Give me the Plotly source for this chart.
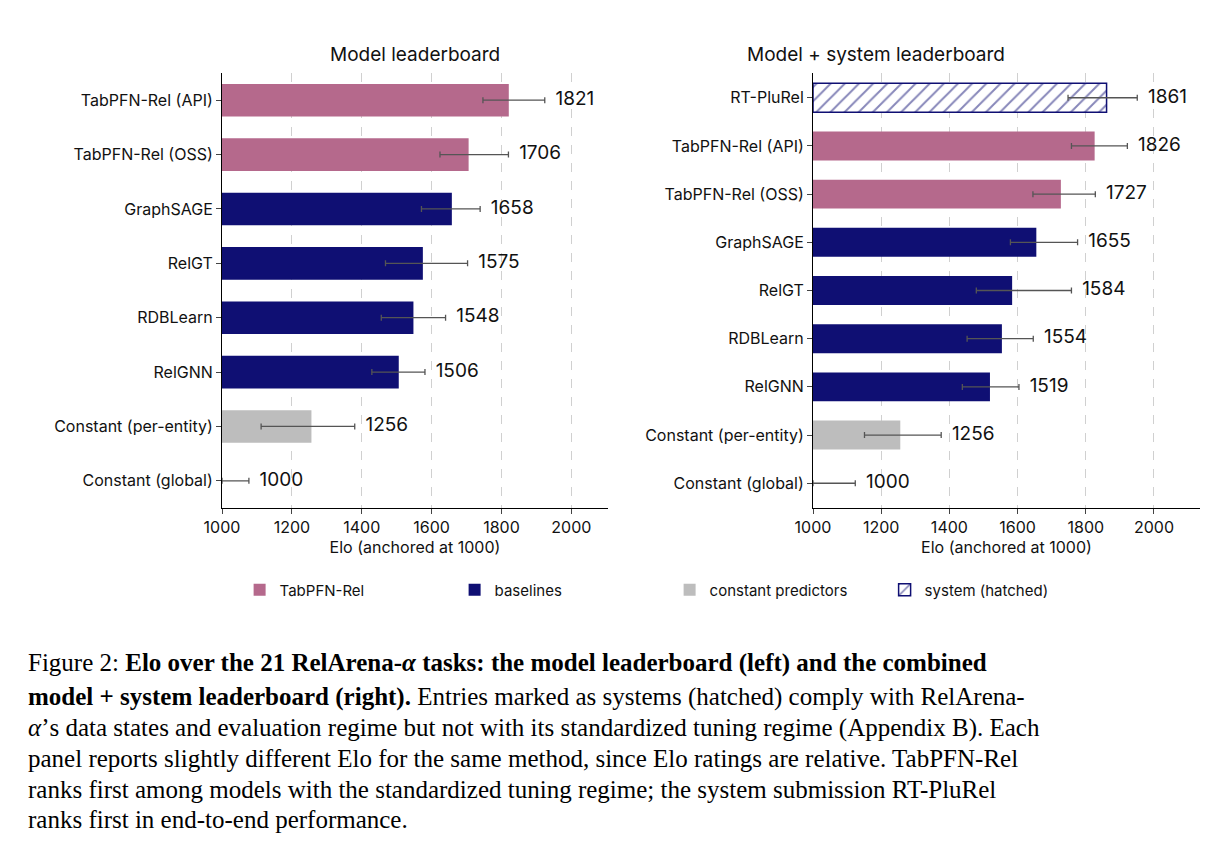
import plotly.graph_objects as go

# Left panel: model leaderboard
left_names = ["TabPFN-Rel (API)", "TabPFN-Rel (OSS)", "GraphSAGE", "RelGT", "RDBLearn",
              "RelGNN", "Constant (per-entity)", "Constant (global)"]
left_elo = [1821, 1706, 1658, 1575, 1548, 1506, 1256, 1000]
left_lo = [1747, 1624, 1571, 1468, 1456, 1429, 1112, 1000]
left_hi = [1924, 1820, 1739, 1703, 1640, 1581, 1380, 1077]
left_group = ["tab", "tab", "base", "base", "base", "base", "const", "const"]

# Right panel: model + system leaderboard
right_names = ["RT-PluRel", "TabPFN-Rel (API)", "TabPFN-Rel (OSS)", "GraphSAGE", "RelGT",
               "RDBLearn", "RelGNN", "Constant (per-entity)", "Constant (global)"]
right_elo = [1861, 1826, 1727, 1655, 1584, 1554, 1519, 1256, 1000]
right_lo = [1748, 1758, 1645, 1579, 1479, 1452, 1438, 1151, 1000]
right_hi = [1951, 1922, 1828, 1776, 1758, 1646, 1604, 1376, 1124]
right_group = ["sys", "tab", "tab", "base", "base", "base", "base", "const", "const"]

colors = {"tab": "#b5698c", "base": "#0f0f73", "const": "#bdbdbd", "sys": "#0f0f73"}
legend_names = {"tab": "TabPFN-Rel", "base": "baselines", "const": "constant predictors",
                "sys": "system (hatched)"}
FONT = "Inter, Roboto, sans-serif"

fig = go.Figure()


def add_panel(names, elo, lo, hi, groups, xa, ya, show):
    for g in ["tab", "base", "const", "sys"]:
        idx = [i for i, gg in enumerate(groups) if gg == g]
        if not idx:
            continue
        marker = dict(color=colors[g], line=dict(width=0))
        if g == "sys":
            marker = dict(color="white", line=dict(color=colors[g], width=1.5),
                          pattern=dict(shape="/", fgcolor=colors[g], bgcolor="white",
                                       size=10, solidity=0.2))
        fig.add_trace(go.Bar(
            y=[names[i] for i in idx], x=[elo[i] - 1000 for i in idx], base=1000,
            orientation="h", width=0.6, marker=marker, name=legend_names[g],
            showlegend=show or g == "sys", legendgroup=g, xaxis=xa, yaxis=ya,
        ))
    fig.add_trace(go.Scatter(
        y=names, x=elo, mode="markers", marker=dict(size=1, opacity=0),
        error_x=dict(type="data", symmetric=False,
                     array=[h - e for h, e in zip(hi, elo)],
                     arrayminus=[e - l for e, l in zip(elo, lo)],
                     color="#555555", thickness=1.3, width=3),
        showlegend=False, hoverinfo="skip", xaxis=xa, yaxis=ya,
    ))
    fig.add_trace(go.Scatter(
        y=names, x=hi, mode="text", text=["  " + str(v) for v in elo],
        textposition="middle right", textfont=dict(size=19, color="#111", family=FONT),
        showlegend=False, hoverinfo="skip", xaxis=xa, yaxis=ya,
    ))


add_panel(left_names, left_elo, left_lo, left_hi, left_group, "x", "y", True)
add_panel(right_names, right_elo, right_lo, right_hi, right_group, "x2", "y2", False)

xcommon = dict(tickvals=[1000, 1200, 1400, 1600, 1800, 2000], showgrid=True,
               gridcolor="#d0d0d0", griddash="dash", gridwidth=1, showline=True,
               linecolor="black", ticks="outside", ticklen=5, zeroline=False, automargin=False,
               tickfont=dict(size=16, family=FONT, color="#111"),
               title=dict(text="Elo (anchored at 1000)", font=dict(size=16, family=FONT, color="#111"),
                          standoff=4))
ycommon = dict(autorange="reversed", showline=True, linecolor="black", ticks="outside",
               ticklen=5, tickfont=dict(size=16, family=FONT, color="#111"), showgrid=False,
               automargin=False, type="category")

y0, y1 = 1 - 500 / 850, 1 - 65 / 850
fig.update_layout(
    width=1219, height=850, margin=dict(l=0, r=0, t=0, b=0),
    plot_bgcolor="white", paper_bgcolor="white", bargap=0.4,
    xaxis=dict(domain=[214 / 1219, 600 / 1219], range=[1000, 2105], anchor="y", **xcommon),
    xaxis2=dict(domain=[805 / 1219, 1192 / 1219], range=[1000, 2135], anchor="y2", **xcommon),
    yaxis=dict(domain=[y0, y1], anchor="x", categoryorder="array", categoryarray=left_names, **ycommon),
    yaxis2=dict(domain=[y0, y1], anchor="x2", categoryorder="array", categoryarray=right_names, **ycommon),
    legend=dict(orientation="h", x=0.03 + 0.16, xanchor="left", y=1 - 582 / 850, yanchor="middle",
                font=dict(size=15, family=FONT, color="#111"), entrywidth=170, itemwidth=30,
                traceorder="normal"),
    font=dict(family=FONT),
)

fig.add_annotation(text="Model leaderboard", x=(214 + 600) / 2 / 1219, y=1 - 33 / 850,
                   xref="paper", yref="paper", showarrow=False,
                   font=dict(size=19, family=FONT, color="#111"))
fig.add_annotation(text="Model + system leaderboard", x=(805 + 1192) / 2 / 1219, y=1 - 33 / 850,
                   xref="paper", yref="paper", showarrow=False,
                   font=dict(size=19, family=FONT, color="#111"))

caption = [
    "Figure 2: <b>Elo over the 21 RelArena-<i>α</i> tasks: the model leaderboard (left) and the combined</b>",
    "<b>model + system leaderboard (right).</b> Entries marked as systems (hatched) comply with RelArena-",
    "<i>α</i>’s data states and evaluation regime but not with its standardized tuning regime (Appendix B). Each",
    "panel reports slightly different Elo for the same method, since Elo ratings are relative. TabPFN-Rel",
    "ranks first among models with the standardized tuning regime; the system submission RT-PluRel",
    "ranks first in end-to-end performance.",
]
line_y = [655, 689, 720, 750, 781, 811]
for txt, yy in zip(caption, line_y):
    fig.add_annotation(text=txt, x=18 / 1219, y=1 - yy / 850, xref="paper", yref="paper",
                       xanchor="left", yanchor="middle", showarrow=False,
                       font=dict(size=25, family="Liberation Serif, serif", color="black"))

fig.write_html("out.html")
